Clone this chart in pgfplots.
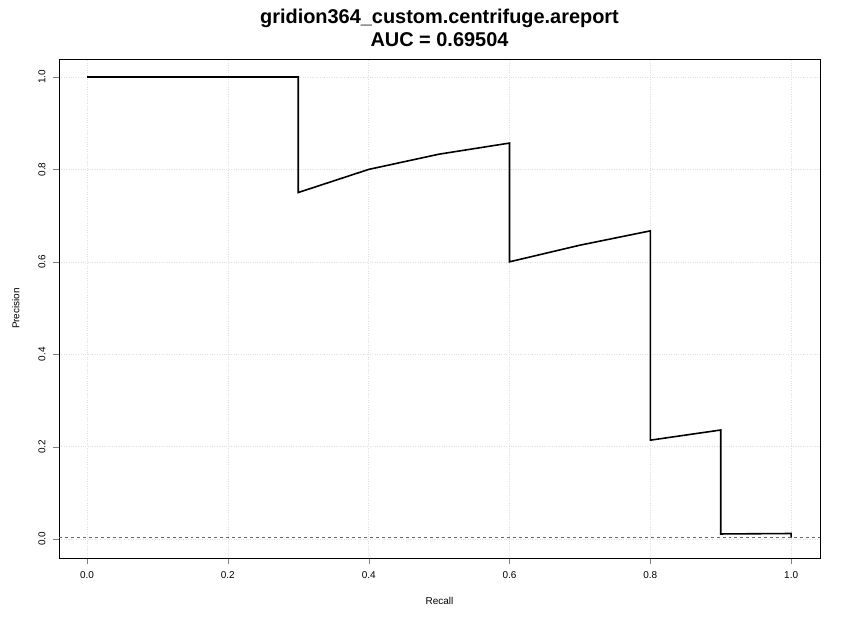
\documentclass[border=0pt]{standalone}
\usepackage{pgfplots}
\pgfplotsset{compat=1.18}
\usepackage{fontspec}
\setmainfont{Liberation Sans}
\begin{document}
\begin{tikzpicture}[x=1bp,y=1bp]
\path[use as bounding box] (0,0) rectangle (850,632);
\begin{axis}[at={(59bp,74bp)}, anchor=south west, scale only axis,
 width=761bp, height=499bp,
 xmin=-0.0398, xmax=1.041, ymin=-0.041, ymax=1.039,
 xtick={0,0.2,...,1}, ytick={0,0.2,...,1},
 xticklabel style={yshift=-4bp,/pgf/number format/.cd,fixed,fixed zerofill,precision=1},
 yticklabel style={rotate=90,anchor=south,yshift=4bp,/pgf/number format/.cd,fixed,fixed zerofill,precision=1},
 /pgf/number format/assume math mode=true,
 tick label style={font=\fontsize{10}{12}\selectfont},
 label style={font=\fontsize{10}{12}\selectfont},
 tick align=outside, xtick pos=bottom, ytick pos=left,
 major tick length=6bp,
 grid=major, grid style={gray!25, dotted, line width=0.6pt},
 xlabel={Recall}, ylabel={Precision},
 xlabel style={yshift=-12bp}, ylabel style={yshift=12bp},
 title={\textbf{gridion364\_custom.centrifuge.areport}\\\textbf{AUC = 0.69504}},
 title style={font=\fontsize{20}{23}\selectfont, align=center, yshift=3bp},
 axis line style={black, line width=0.5pt},
]
\addplot[black, line width=1.6pt] coordinates {
(0,1) (0.3,1) (0.3,0.75) (0.4,0.8) (0.5,0.833) (0.6,0.857) (0.6,0.6) (0.7,0.636) (0.8,0.667)
(0.8,0.214) (0.9,0.236) (0.9,0.011) (1.0,0.012) (1.0,0.003)};
\addplot[gray!80!black, dashed, line width=0.7pt] coordinates {(-0.0398,0.003) (1.041,0.003)};
\end{axis}
\end{tikzpicture}
\end{document}
